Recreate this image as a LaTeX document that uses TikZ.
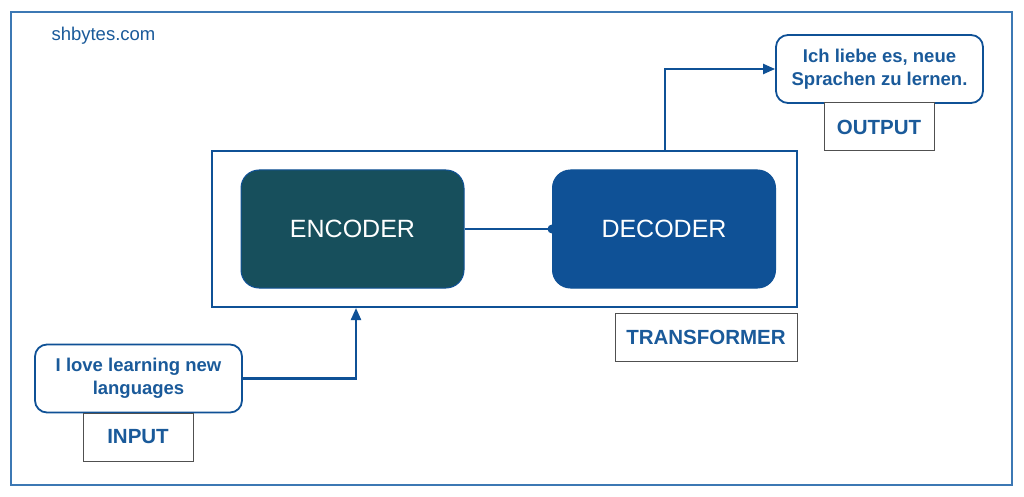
\documentclass[tikz,border=0pt]{standalone}
\usepackage{fontspec}
\setmainfont{Liberation Sans}
\usetikzlibrary{arrows.meta}
\definecolor{frameblue}{HTML}{3C78B4}
\definecolor{mainblue}{HTML}{0F5196}
\definecolor{textblue}{HTML}{1A5A9A}
\definecolor{encteal}{HTML}{174F5C}
\definecolor{labgray}{HTML}{505050}
\tikzset{
  block/.style={rounded corners=18pt, minimum width=223pt, minimum height=118pt, text=white, font=\fontsize{25}{28}\selectfont, draw=mainblue, line width=1pt},
  textbox/.style={draw=mainblue, line width=1.8pt, rounded corners=12pt, fill=white, minimum width=207pt, minimum height=68pt, align=center, text=textblue, font=\fontsize{18.5}{22.5}\selectfont\bfseries},
  tagbox/.style={draw=labgray, line width=1pt, fill=white, minimum height=48pt, text=textblue, font=\fontsize{20.5}{24}\selectfont\bfseries},
  conn/.style={draw=mainblue, line width=2.2pt},
}
\begin{document}
\begin{tikzpicture}[x=1pt,y=-1pt]
\useasboundingbox (0,0) rectangle (1024,497);
\fill[white] (0,0) rectangle (1024,497);
\draw[frameblue, line width=1.3pt] (11,12) rectangle (1012,485);
\node[anchor=west, text=textblue, font=\fontsize{18.5}{22}\selectfont] (site) at (48,36) {shbytes.com};
% transformer frame
\node[draw=mainblue, line width=2pt, minimum width=585pt, minimum height=156pt, inner sep=0pt] (trans) at (504.5,229) {};
\node[block, fill=encteal] (enc) at (352.5,229) {ENCODER};
\node[block, fill=mainblue] (dec) at (664,229) {DECODER};
\draw[conn] (enc.east) -- (dec.west);
\fill[mainblue] (dec.west) circle (4.5pt);
% input
\node[textbox] (inp) at (138.5,378.5) {I love learning new\\languages};
\node[tagbox, minimum width=110pt] (inlab) at (138,437) {INPUT};
\coordinate (inturn) at (356,378.5);
\draw[conn, -{Triangle[length=12pt,width=10pt]}] (inp.east) -- (inturn) -- (trans.south -| inturn);
% output
\node[textbox] (outp) at (879.5,69) {Ich liebe es, neue\\Sprachen zu lernen.};
\node[tagbox, minimum width=110pt] (outlab) at (879,127) {OUTPUT};
\coordinate (outturn) at (665,69);
\draw[conn, -{Triangle[length=12pt,width=10pt]}] (trans.north -| outturn) -- (outturn) -- (outp.west);
% transformer label
\node[tagbox, minimum width=182pt] (translab) at (706,337.5) {TRANSFORMER};
\end{tikzpicture}
\end{document}
